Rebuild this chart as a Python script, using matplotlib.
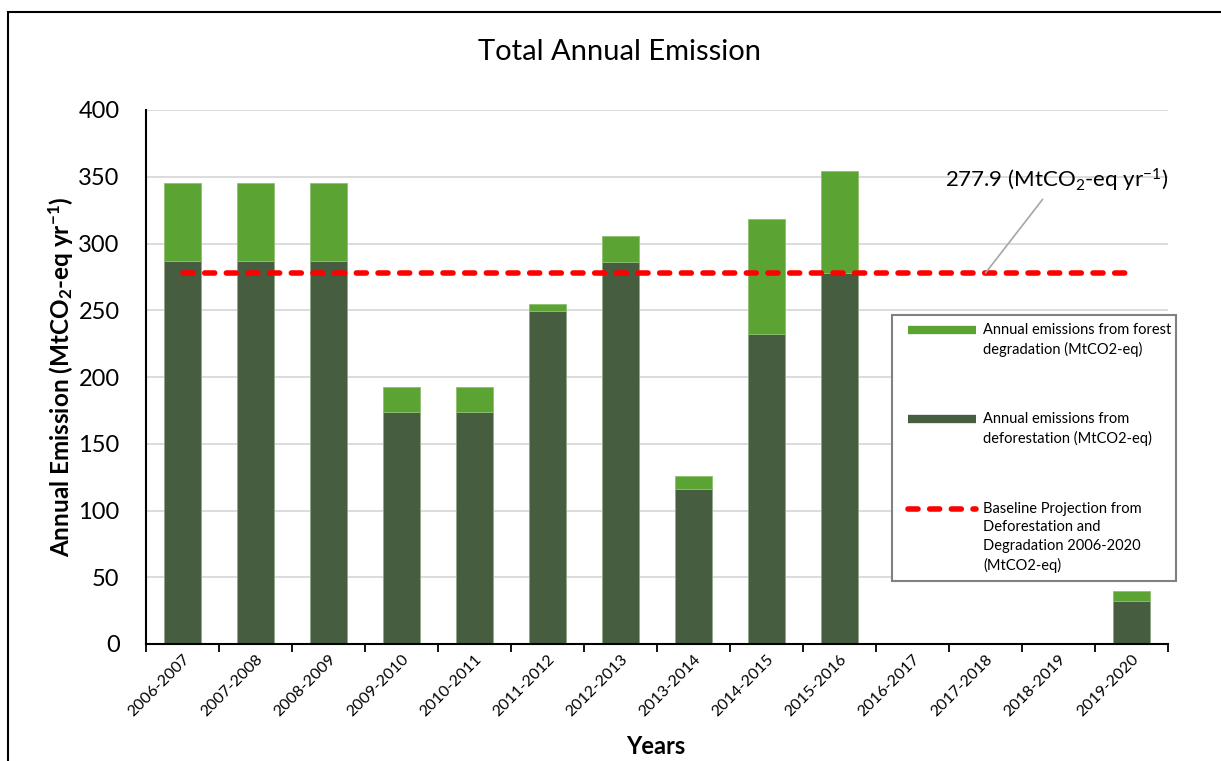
import numpy as np
import matplotlib
matplotlib.use("Agg")
import matplotlib.pyplot as plt
from matplotlib.lines import Line2D
from matplotlib.patches import Rectangle

plt.rcParams['font.family'] = ['Lato', 'DejaVu Sans']
plt.rcParams['mathtext.fontset'] = 'custom'
plt.rcParams['mathtext.rm'] = 'Lato'
plt.rcParams['mathtext.it'] = 'Lato:italic'
plt.rcParams['mathtext.bf'] = 'Lato:bold'

# ------------------------------------------
# Data (MtCO2-eq per year)
# ------------------------------------------
years = ["2006-2007", "2007-2008", "2008-2009", "2009-2010", "2010-2011",
         "2011-2012", "2012-2013", "2013-2014", "2014-2015", "2015-2016",
         "2016-2017", "2017-2018", "2018-2019", "2019-2020"]
deforestation = [286.8, 286.8, 286.8, 173.5, 173.5, 249.2, 285.9, 116.0,
                 232.5, 278.0, 0, 0, 0, 32.4]
degradation = [58.8, 58.8, 58.8, 19.0, 19.0, 5.7, 19.7, 9.8,
               85.6, 76.3, 0, 0, 0, 7.5]
baseline = 277.9

c_deg = "#5BA332"
c_def = "#465D40"
c_base = "#FF0000"

W, H = 1221, 761
fig = plt.figure(figsize=(W / 100, H / 100), dpi=100)

def px(x, y):
    # pixel position (from top-left) -> figure fraction
    return x / W, 1 - y / H

ax = fig.add_axes([146 / W, (H - 644) / H, (1168 - 146) / W, (644 - 110) / H])

x = np.arange(len(years))
ax.bar(x, deforestation, width=0.51, color=c_def, edgecolor="#8FA887",
       linewidth=0.6, zorder=2)
ax.bar(x, degradation, width=0.51, bottom=deforestation, color=c_deg,
       edgecolor="#8FC070", linewidth=0.6, zorder=2)
ax.plot([x[0], x[-1]], [baseline, baseline], color=c_base, lw=4,
        linestyle=(0, (1.8, 2.1)), dash_capstyle="round", zorder=3)

ax.annotate(r"277.9 (MtCO$_\mathrm{2}$-eq yr$^\mathrm{-1}$)",
            xy=(11.0, baseline), xytext=(11.98, 347),
            ha="center", va="center", fontsize=16,
            arrowprops=dict(arrowstyle="-", color="#A6A6A6", lw=1.2,
                            shrinkA=2, shrinkB=0))

ax.set_xlim(-0.5, len(years) - 0.5)
ax.set_ylim(0, 400)
ax.set_yticks(np.arange(0, 401, 50))
ax.tick_params(axis="y", length=0, pad=19, labelsize=17)
ax.yaxis.grid(True, color="#D9D9D9", lw=1.3, zorder=0)
ax.set_axisbelow(True)

ax.set_xticks(x)
ax.set_xticklabels(years, rotation=45, ha="right", va="top",
                   rotation_mode="anchor", fontsize=11.5)
ax.tick_params(axis="x", length=0, pad=6)
ax.set_xticks(np.arange(-0.5, len(years), 1), minor=True)
ax.tick_params(axis="x", which="minor", length=6, width=1.3, direction="out")

for s in ["top", "right"]:
    ax.spines[s].set_visible(False)
ax.spines["left"].set_linewidth(1.5)
ax.spines["bottom"].set_linewidth(1.5)

# ------------------------------------------
# Titles and labels
# ------------------------------------------
fig.text(*px(620, 52), "Total Annual Emission", ha="center", va="center",
         fontsize=21)
fig.text(*px(656, 747), "Years", ha="center", va="center", fontsize=17,
         fontweight="bold")
fig.text(*px(61, 377), r"Annual Emission (MtCO$_\mathbf{2}$-eq yr$^\mathbf{-1}$)",
         ha="center", va="center", rotation=90, fontsize=17.5, fontweight="bold")

# ------------------------------------------
# Legend box
# ------------------------------------------
bx0, by0 = px(892, 581)
bx1, by1 = px(1176, 315)
fig.add_artist(Rectangle((bx0, by0), bx1 - bx0, by1 - by0, transform=fig.transFigure,
                         facecolor="white", edgecolor="#808080", lw=1.5, zorder=5))

entries = [
    (c_deg, "solid", 330, "Annual emissions from forest\ndegradation (MtCO2-eq)"),
    (c_def, "solid", 419, "Annual emissions from\ndeforestation (MtCO2-eq)"),
    (c_base, "dash", 509, "Baseline Projection from\nDeforestation and\n"
                          "Degradation 2006-2020\n(MtCO2-eq)"),
]
for color, kind, ypx, label in entries:
    (x0, y0), (x1, _) = px(908, ypx), px(976, ypx)
    if kind == "solid":
        fig.add_artist(Line2D([x0, x1], [y0, y0], color=color, lw=6,
                              solid_capstyle="butt", transform=fig.transFigure, zorder=6))
    else:
        fig.add_artist(Line2D([x0, x1], [y0, y0], color=color, lw=4,
                              linestyle=(0, (1.8, 2.1)), dash_capstyle="round",
                              transform=fig.transFigure, zorder=6))
    fig.text(*px(983, ypx - 7), label, ha="left", va="top", fontsize=10.5,
             linespacing=1.4, zorder=7)

# outer frame
fx0, fy0 = px(8, 900)
fx1, fy1 = px(1300, 12)
fig.add_artist(Rectangle((fx0, fy0), fx1 - fx0, fy1 - fy0, transform=fig.transFigure,
                         facecolor="none", edgecolor="black", lw=1.5, zorder=10))

fig.savefig("out.png", dpi=100)
